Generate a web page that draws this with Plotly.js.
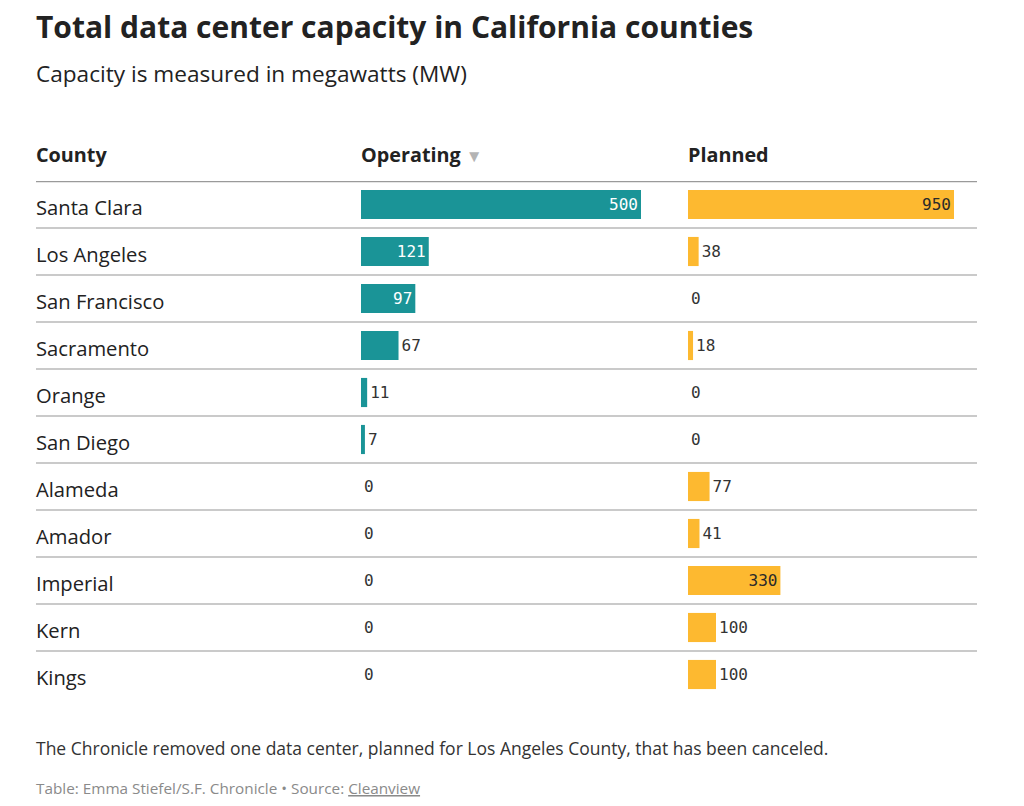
<!DOCTYPE html>
<html>
<head>
<meta charset="utf-8">
<script src="https://cdn.plot.ly/plotly-3.0.1.min.js"></script>
<style>
  html, body { margin: 0; padding: 0; background: #fff; }
  #chart { width: 1024px; height: 806px; }
</style>
</head>
<body>
<div id="chart"></div>
<script>
// Data center capacity by county, in megawatts
const counties = ["Santa Clara", "Los Angeles", "San Francisco", "Sacramento", "Orange",
                  "San Diego", "Alameda", "Amador", "Imperial", "Kern", "Kings"];
const operating = [500, 121, 97, 67, 11, 7, 0, 0, 0, 0, 0];
const planned   = [950, 38, 0, 18, 0, 0, 77, 41, 330, 100, 100];

const TEAL = "#1a9497";
const GOLD = "#fdb930";
const TEXT = "'Open Sans', Lato, sans-serif";
const NUM = "'DejaVu Sans Mono', monospace";

const W = 1024, H = 806;
const M = { l: 36, r: 47, t: 181, b: 108 };
const paperW = W - M.l - M.r;
const paperH = H - M.t - M.b;

// column geometry in pixels (left edge and width of each bar column)
const opLeft = 361, plLeft = 688, colW = 280;
const opMax = 500, plMax = 1000;
const dom = (left) => [(left - M.l) / paperW, (left + colW - M.l) / paperW];
// annotations carry a small built-in inset; pull them back onto the edge
const ax = (pix) => (pix - 2 - M.l) / paperW;

// values whose bar is wide enough carry their label inside
const placement = (vals, max) => vals.map(v => (v / max) * colW > 45 ? "inside" : "outside");

const traces = [
  {
    type: "bar", orientation: "h", name: "Operating",
    y: counties, x: operating, xaxis: "x", yaxis: "y",
    marker: { color: TEAL, line: { width: 0 } },
    text: operating.map(String), textposition: placement(operating, opMax),
    insidetextanchor: "end",
    insidetextfont: { family: NUM, size: 16, color: "#ffffff" },
    outsidetextfont: { family: NUM, size: 16, color: "#333333" },
    cliponaxis: false, hoverinfo: "skip", showlegend: false
  },
  {
    type: "bar", orientation: "h", name: "Planned",
    y: counties, x: planned, xaxis: "x2", yaxis: "y",
    marker: { color: GOLD, line: { width: 0 } },
    text: planned.map(String), textposition: placement(planned, plMax),
    insidetextanchor: "end",
    insidetextfont: { family: NUM, size: 16, color: "#2a2a2a" },
    outsidetextfont: { family: NUM, size: 16, color: "#333333" },
    cliponaxis: false, hoverinfo: "skip", showlegend: false
  }
];

// pixel y (from top of page) to paper coordinate
const py = (pix) => (H - M.b - pix) / paperH;

const annotations = [];
// county names in the first column
counties.forEach(c => annotations.push({
  xref: "paper", yref: "y", x: ax(36), y: c, xanchor: "left", yanchor: "middle", yshift: -2,
  text: c, showarrow: false, font: { family: TEXT, size: 20.2, color: "#222" }
}));
// column headers
const headFont = { family: TEXT, size: 19.8, color: "#222" };
annotations.push(
  { xref: "paper", yref: "paper", x: ax(36), y: py(154), xanchor: "left", yanchor: "middle",
    text: "<b>County</b>", showarrow: false, font: headFont },
  { xref: "paper", yref: "paper", x: ax(opLeft), y: py(154), xanchor: "left", yanchor: "middle",
    text: "<b>Operating</b> <span style='color:#b4b4b4;font-size:17px'>▼</span>", showarrow: false, font: headFont },
  { xref: "paper", yref: "paper", x: ax(plLeft), y: py(154), xanchor: "left", yanchor: "middle",
    text: "<b>Planned</b>", showarrow: false, font: headFont },
  // subtitle
  { xref: "paper", yref: "paper", x: ax(36), y: py(73), xanchor: "left", yanchor: "middle",
    text: "Capacity is measured in megawatts (MW)", showarrow: false,
    font: { family: TEXT, size: 22.6, color: "#222" } },
  // footnote and credits
  { xref: "paper", yref: "paper", x: ax(36), y: py(748), xanchor: "left", yanchor: "middle",
    text: "The Chronicle removed one data center, planned for Los Angeles County, that has been canceled.",
    showarrow: false, font: { family: TEXT, size: 17.5, color: "#333" } },
  { xref: "paper", yref: "paper", x: ax(36), y: py(788), xanchor: "left", yanchor: "middle",
    text: "Table: Emma Stiefel/S.F. Chronicle • Source: <u>Cleanview</u>",
    showarrow: false, font: { family: TEXT, size: 15.3, color: "#8a8a8a" } }
);

// header rule and row separators
const shapes = [{
  type: "line", xref: "paper", yref: "y", x0: 0, x1: 1, y0: -0.5, y1: -0.5,
  line: { color: "#9a9a9a", width: 2.5 }
}];
for (let i = 0; i < counties.length - 1; i++) {
  shapes.push({
    type: "line", xref: "paper", yref: "y", x0: 0, x1: 1, y0: i + 0.5, y1: i + 0.5,
    line: { color: "#b8b8b8", width: 1.5 }, layer: "below"
  });
}

const hidden = { showgrid: false, zeroline: false, showticklabels: false, showline: false, ticks: "", fixedrange: true };

const layout = {
  width: W, height: H,
  margin: M,
  paper_bgcolor: "#fff", plot_bgcolor: "#fff",
  title: {
    text: "<b>Total data center capacity in California counties</b>",
    xref: "container", yref: "container", x: 36 / W, xanchor: "left",
    y: 1 - 27 / H, yanchor: "middle",
    font: { family: TEXT, size: 30, color: "#222" }
  },
  bargap: 0.38,
  xaxis: Object.assign({ domain: dom(opLeft), range: [0, opMax], anchor: "y" }, hidden),
  xaxis2: Object.assign({ domain: dom(plLeft), range: [0, plMax], anchor: "y" }, hidden),
  yaxis: Object.assign({ type: "category", range: [counties.length - 0.5, -0.5] }, hidden),
  annotations: annotations,
  shapes: shapes
};

Plotly.newPlot("chart", traces, layout, { displayModeBar: false, staticPlot: true });
</script>
</body>
</html>
